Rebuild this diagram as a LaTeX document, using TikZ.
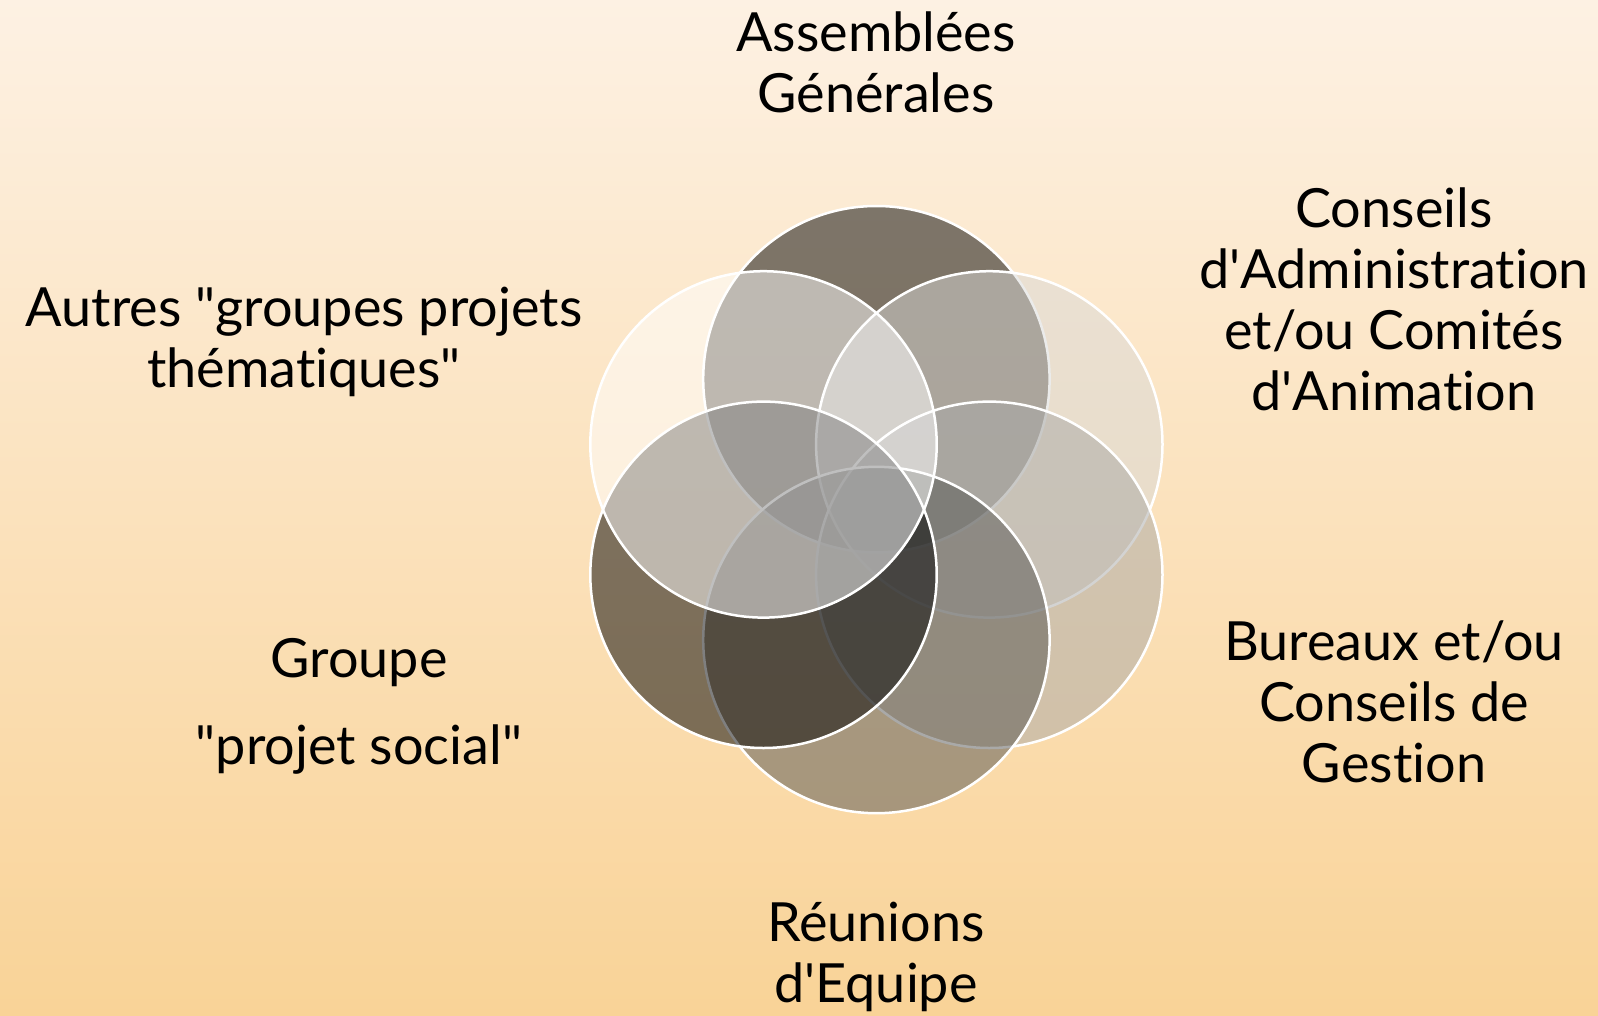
\documentclass[tikz,border=0pt]{standalone}
\usepackage{fontspec}
\setmainfont{Lato}[Ligatures={NoCommon}]
\newcommand{\dq}{\textquotedbl}
\newcommand{\sq}{\textquotesingle}
\definecolor{bgtop}{HTML}{FDF1E3}
\definecolor{bgbot}{HTML}{F9D397}
\definecolor{cA}{HTML}{000000}
\definecolor{cB}{HTML}{D9D9D7}
\definecolor{cC}{HTML}{A9A8A6}
\definecolor{cD}{HTML}{555552}
\definecolor{cE}{HTML}{000000}
\definecolor{cF}{HTML}{FFFFFF}
\begin{document}
\begin{tikzpicture}[x=1pt,y=-1pt,
  vc/.style={draw=white, line width=2.5pt, fill opacity=0.5},
  lbl/.style={align=center, anchor=base, inner sep=0pt, text=black,
    font=\fontsize{54}{61}\selectfont}]
\shade[top color=bgtop, bottom color=bgbot] (0,0) rectangle (1598,1015);
\useasboundingbox (0,0) rectangle (1598,1015);
% circles (drawing order matters)
\path[vc, fill=cA] (876.4,379.2) circle[radius=173.2];
\path[vc, fill=cB] (989.3,444.4) circle[radius=173.2];
\path[vc, fill=cC] (989.3,574.8) circle[radius=173.2];
\path[vc, fill=cD] (876.4,640.0) circle[radius=173.2];
\path[vc, fill=cE] (763.5,574.8) circle[radius=173.2];
\path[vc, fill=cF] (763.5,444.4) circle[radius=173.2];
% labels (anchor = baseline of last line)
\node[lbl] (ag) at (876,112) {Assemblées\\Générales};
\node[lbl] (ca) at (1394,410) {Conseils\\d\sq Administration\\et/ou Comités\\d\sq Animation};
\node[lbl] (bu) at (1394,782) {Bureaux et/ou\\Conseils de\\Gestion};
\node[lbl] (re) at (876,1002) {Réunions\\d\sq Equipe};
\node[lbl] (gr) at (359,764) {Groupe\\[25.6pt]\dq projet social\dq};
\node[lbl] (au) at (304,387) {Autres \dq groupes projets\\thématiques\dq};
\end{tikzpicture}
\end{document}
